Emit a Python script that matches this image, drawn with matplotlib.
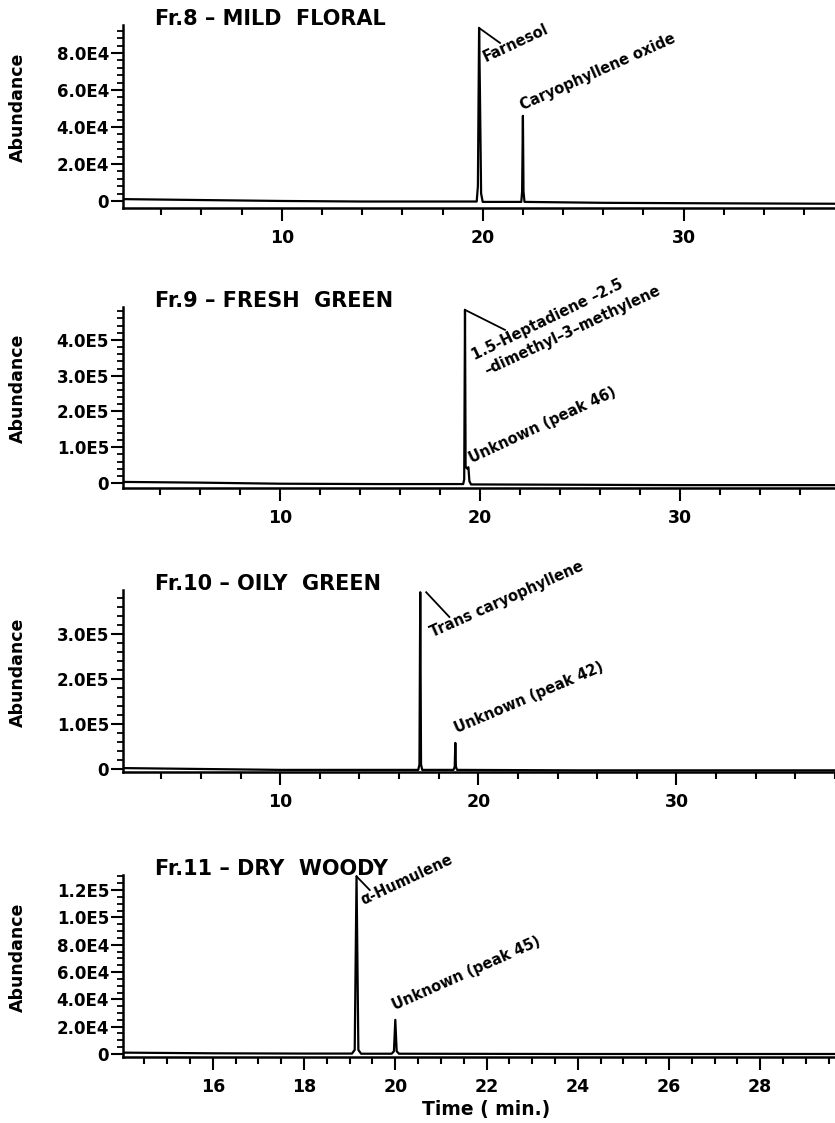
import numpy as np
import matplotlib
matplotlib.use('Agg')
import matplotlib.pyplot as plt
from matplotlib.ticker import MultipleLocator

plt.rcParams['font.family'] = ['DejaVu Sans']
plt.rcParams['font.weight'] = 'bold'

# ---- data ----
# Fr.8
t1 = [2.1, 6.0, 10.0, 14.0, 19.70, 19.76, 19.82, 19.86, 19.92, 20.0, 21.92, 21.96, 22.0, 22.03, 22.08, 26.0, 30.0, 37.5]
a1 = [1.0e3, 0.5e3, 0.0, -0.3e3, -0.3e3, 8e3, 93.5e3, 60e3, 4e3, -0.5e3, -0.5e3, 5e3, 46e3, 5e3, -0.5e3, -1.0e3, -1.2e3, -1.5e3]
# Fr.9
t2 = [2.15, 6.0, 10.0, 15.0, 19.16, 19.21, 19.25, 19.28, 19.32, 19.36, 19.42, 19.47, 19.55, 25.0, 30.0, 37.7]
a2 = [0.3e4, 0.1e4, -0.2e4, -0.3e4, -0.3e4, 1e4, 4.84e5, 4.5e4, 4.3e4, 4.0e4, 4.4e4, 0.5e4, -0.4e4, -0.5e4, -0.6e4, -0.6e4]
# Fr.10
t3 = [2.07, 6.0, 10.0, 15.0, 16.97, 17.03, 17.07, 17.11, 17.17, 18.75, 18.81, 18.84, 18.87, 18.93, 25.0, 30.0, 38.0]
a3 = [0.2e4, 0.0, -0.2e4, -0.2e4, -0.2e4, 1e4, 3.93e5, 1e4, -0.2e4, -0.2e4, 0.5e4, 0.58e5, 0.5e4, -0.2e4, -0.3e4, -0.3e4, -0.3e4]
# Fr.11
t4 = [14.03, 16.0, 18.0, 19.05, 19.11, 19.15, 19.19, 19.25, 19.92, 19.97, 20.0, 20.03, 20.08, 24.0, 29.7]
a4 = [1.0e3, 0.5e3, 0.3e3, 0.3e3, 3e3, 1.30e5, 3e3, 0.2e3, 0.2e3, 2e3, 2.5e4, 2e3, 0.2e3, 0.0, 0.0]

titles = ['Fr.8 – MILD  FLORAL', 'Fr.9 – FRESH  GREEN', 'Fr.10 – OILY  GREEN', 'Fr.11 – DRY  WOODY']

yt1 = [0, 2e4, 4e4, 6e4, 8e4]
yl1 = ['0', '2.0E4', '4.0E4', '6.0E4', '8.0E4']
yt2 = [0, 1e5, 2e5, 3e5, 4e5]
yl2 = ['0', '1.0E5', '2.0E5', '3.0E5', '4.0E5']
yt3 = [0, 1e5, 2e5, 3e5]
yl3 = ['0', '1.0E5', '2.0E5', '3.0E5']
yt4 = [0, 2e4, 4e4, 6e4, 8e4, 1e5, 1.2e5]
yl4 = ['0', '2.0E4', '4.0E4', '6.0E4', '8.0E4', '1.0E5', '1.2E5']

# (label, x, y, rotation)
lab1 = [('Farnesol', 20.16, 75e3, 25), ('Caryophyllene oxide', 22.0, 49e3, 24)]
lab2 = [('1.5-Heptadiene –2.5', 19.75, 3.44e5, 26), ('–dimethyl–3–methylene', 20.35, 3.02e5, 25),
        ('Unknown (peak 46)', 19.6, 0.56e5, 25)]
lab3 = [('Trans caryophyllene', 17.68, 2.93e5, 24), ('Unknown (peak 42)', 18.94, 0.8e5, 23)]
lab4 = [('α-Humulene', 19.29, 1.09e5, 25), ('Unknown (peak 45)', 19.99, 3.2e4, 24)]

# leader lines: (x0, y0, x1, y1)
lead1 = [(19.82, 93.5e3, 20.86, 85.4e3)]
lead2 = [(19.25, 4.84e5, 21.25, 4.28e5)]
lead3 = [(17.37, 3.93e5, 18.54, 3.38e5)]
lead4 = [(19.15, 1.30e5, 19.44, 1.20e5)]

W, H = 835, 1123
fig = plt.figure(figsize=(W/100, H/100), dpi=100)

panels = [
    (t1, a1, 25, 208, (2.10, 37.53), (-3.8e3, 95.1e3), yt1, yl1, 4e3, 10, 2, lab1, lead1),
    (t2, a2, 307, 488, (2.15, 37.75), (-1.4e4, 4.92e5), yt2, yl2, 2e4, 10, 2, lab2, lead2),
    (t3, a3, 590, 772, (2.07, 38.0), (-6.7e3, 3.98e5), yt3, yl3, 2e4, 10, 2, lab3, lead3),
    (t4, a4, 875, 1057, (14.03, 29.64), (-2.2e3, 1.31e5), yt4, yl4, 5e3, 2, 0.5, lab4, lead4),
]

left = 123
for i, (t, a, top, bot, xl, yl, yt, ylab, ymin, xmaj, xmin, labs, leads) in enumerate(panels):
    ax = fig.add_axes([left/W, 1 - bot/H, 1 - left/W, (bot - top)/H])
    ax.plot(t, a, color='black', lw=1.6)
    ax.set_xlim(*xl)
    ax.set_ylim(*yl)
    ax.spines['top'].set_visible(False)
    ax.spines['right'].set_visible(False)
    ax.spines['left'].set_linewidth(1.8)
    ax.spines['bottom'].set_linewidth(1.8)
    ax.set_yticks(yt)
    ax.set_yticklabels(ylab, fontsize=12, fontweight='bold')
    ax.yaxis.set_minor_locator(MultipleLocator(ymin))
    ax.xaxis.set_major_locator(MultipleLocator(xmaj))
    ax.xaxis.set_minor_locator(MultipleLocator(xmin))
    ax.tick_params(axis='y', which='major', length=9, width=1.5, pad=1)
    ax.tick_params(axis='y', which='minor', length=4, width=1.3)
    ax.tick_params(axis='x', which='major', length=9, width=1.5, pad=6, labelsize=12.5)
    ax.tick_params(axis='x', which='minor', length=5, width=1.5)
    for lbl in ax.get_xticklabels():
        lbl.set_fontweight('bold')
    ax.set_ylabel('Abundance', fontsize=12.5, fontweight='bold')
    ax.yaxis.set_label_coords(-96/(W - left), 0.55)
    ax.text(0.045, 1.0, titles[i], transform=ax.transAxes, fontsize=15,
            fontweight='bold', ha='left', va='baseline')
    for (s, x, y, r) in labs:
        ax.text(x, y, s, rotation=r, rotation_mode='anchor', ha='left',
                va='baseline', fontsize=10.5, fontweight='bold')
    for (x0, y0, x1, y1) in leads:
        ax.plot([x0, x1], [y0, y1], color='black', lw=1.3)
    if i == 3:
        ax.set_xlabel('Time ( min.)', fontsize=13.5, fontweight='bold')
        ax.xaxis.set_label_coords(0.51, -(1110 - 1057)/(bot - top))
        ax.xaxis.label.set_va('center')

fig.savefig('out.png', dpi=100)
